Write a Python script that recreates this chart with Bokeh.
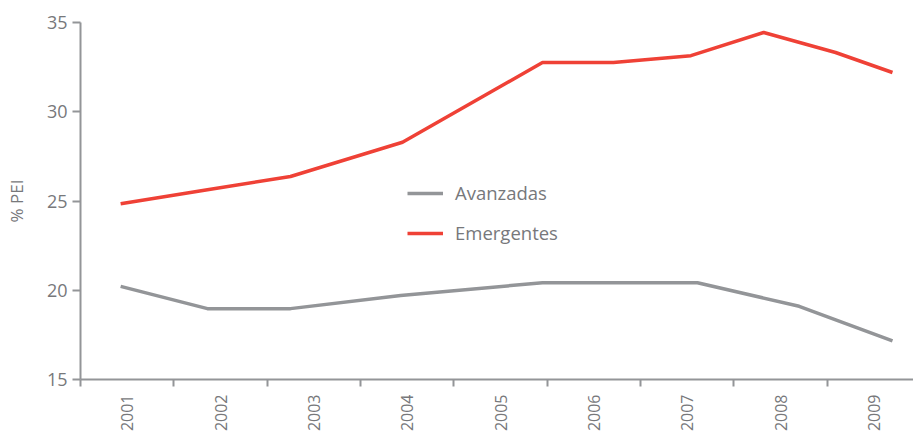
import math
from bokeh.plotting import figure
from bokeh.models import Range1d, FixedTicker, Legend, LegendItem
from bokeh.embed import file_html
from bokeh.resources import INLINE

# Category labels (years)
years = ["2001", "2002", "2003", "2004", "2005", "2006", "2007", "2008", "2009"]

# Series vertices (x in category units: category i spans [i, i+1])
avanzadas_x = [0.43, 1.36, 2.25, 3.43, 4.95, 6.61, 7.70, 8.70]
avanzadas_y = [20.22, 18.97, 18.97, 19.71, 20.42, 20.42, 19.10, 17.16]

emergentes_x = [0.43, 1.36, 2.25, 3.45, 4.95, 5.71, 6.54, 7.32, 8.09, 8.70]
emergentes_y = [24.85, 25.63, 26.37, 28.29, 32.76, 32.76, 33.14, 34.44, 33.32, 32.20]

y_ticks = [15, 20, 25, 30, 35]

GRAY = "#939598"
RED = "#ef4136"
TEXT = "#77787b"
FONT = "Open Sans"

p = figure(width=913, height=435, output_backend="svg", toolbar_location=None,
           x_range=Range1d(0, 8.925), y_range=Range1d(15, 35),
           min_border_left=80, min_border_right=0, min_border_top=22, min_border_bottom=56)
p.outline_line_color = None
p.xgrid.visible = False
p.ygrid.visible = False
p.background_fill_color = "white"
p.border_fill_color = "white"

r1 = p.line(avanzadas_x, avanzadas_y, line_color=GRAY, line_width=3.5)
r2 = p.line(emergentes_x, emergentes_y, line_color=RED, line_width=3.5)

# x axis: labels at category centres, tick marks at category boundaries
centers = [i + 0.5 for i in range(len(years))]
bounds = [float(i) for i in range(len(years) + 1)]
xa = p.xaxis[0]
xa.ticker = FixedTicker(ticks=centers, minor_ticks=bounds)
xa.major_label_overrides = {c: y for c, y in zip(centers, years)}
xa.major_tick_out = 0
xa.major_tick_in = 0
xa.minor_tick_out = 7
xa.minor_tick_in = 0
xa.minor_tick_line_color = GRAY
xa.minor_tick_line_width = 2
xa.axis_line_color = GRAY
xa.axis_line_width = 2
xa.major_label_orientation = math.pi / 2
xa.major_label_standoff = 8
xa.major_label_text_font = FONT
xa.major_label_text_font_size = "16px"
xa.major_label_text_color = TEXT

ya = p.yaxis[0]
ya.ticker = FixedTicker(ticks=y_ticks, minor_ticks=[])
ya.major_tick_out = 8
ya.major_tick_in = 0
ya.major_tick_line_color = GRAY
ya.major_tick_line_width = 2
ya.axis_line_color = GRAY
ya.axis_line_width = 2
ya.major_label_standoff = 5
ya.major_label_text_font = FONT
ya.major_label_text_font_size = "18px"
ya.major_label_text_color = TEXT
ya.axis_label = "% PEI"
ya.axis_label_text_font = FONT
ya.axis_label_text_font_size = "17px"
ya.axis_label_text_font_style = "normal"
ya.axis_label_text_color = TEXT
ya.axis_label_standoff = 16

legend = Legend(items=[LegendItem(label="Avanzadas", renderers=[r1]),
                       LegendItem(label="Emergentes", renderers=[r2])],
                location=(327, 134), orientation="vertical",
                border_line_color=None, background_fill_alpha=0,
                padding=0, margin=0, spacing=15,
                glyph_width=36, glyph_height=20, label_height=20,
                label_standoff=12, label_text_font=FONT,
                label_text_font_size="18.5px", label_text_color=TEXT)
p.add_layout(legend, "center")

open("out.html", "w").write(file_html(p, INLINE))
